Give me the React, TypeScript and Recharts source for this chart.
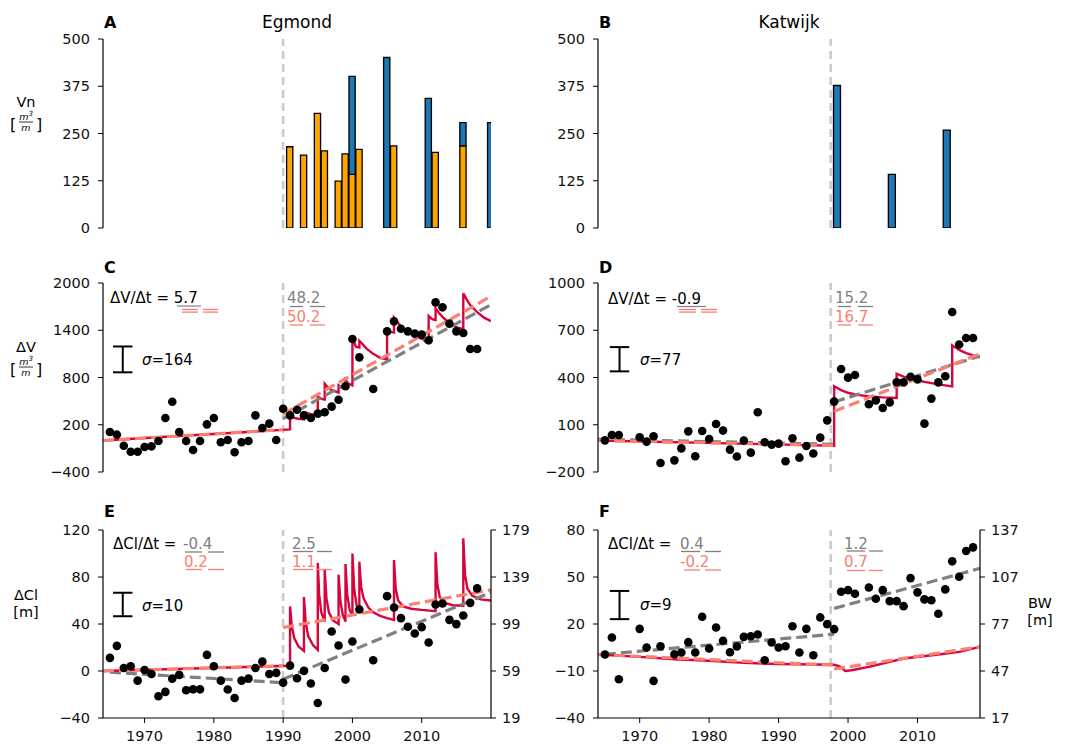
import React from 'react';
import { ComposedChart, XAxis, YAxis, Line, Scatter, Bar, ReferenceLine } from 'recharts';

const FONT = '"DejaVu Sans", Verdana, sans-serif';
const RED = '#d8053c';
const SALMON = '#fa8072';
const GREY = '#808080';
const VLINE = '#cbcbcb';
const ORANGE = '#ffa500';
const BLUE = '#1f77b4';

// ---------------- data ----------------
// Panel A / B : nourishment volumes
const egNourYears = [1991, 1993, 1995, 1996, 1998, 1999, 2000, 2001, 2005, 2006, 2011, 2012, 2016, 2020];
const egBeachVol = [215, 193, 303, 204, 124, 196, 142, 208, 0, 217, 0, 200, 217, 0];
const egShoreVol = [0, 0, 0, 0, 0, 0, 259, 0, 451, 0, 343, 0, 62, 279];
const kaNourYears = [1998.4, 2006.3, 2014.2];
const kaShoreVol = [377, 142, 259];

// observations
const egObsYears = [1965, 1966, 1967, 1968, 1969, 1970, 1971, 1972, 1973, 1974, 1975, 1976, 1977, 1978, 1979, 1980, 1981, 1982, 1983, 1984, 1985, 1986, 1987, 1988, 1989, 1990, 1991, 1992, 1993, 1994, 1995, 1996, 1997, 1998, 1999, 2000, 2001, 2003, 2005, 2006, 2007, 2008, 2009, 2010, 2011, 2012, 2013, 2014, 2015, 2016, 2017, 2018];
const egVol = [108, 74, -66, -142, -142, -83, -74, -6, 286, 493, 108, -6, -121, -6, 205, 286, -23, 6, -150, -23, -6, 319, 159, 214, 6, 404, 319, 391, 319, 286, 341, 358, 430, 518, 688, 1289, 1056, 654, 1386, 1513, 1420, 1386, 1357, 1344, 1272, 1754, 1691, 1484, 1386, 1365, 1162, 1162];
const egCl = [11.2, 21.4, 2.6, 4, -8.2, 0.9, -2.5, -21.5, -17.8, -6.5, -3.3, -16.4, -15.6, -15.6, 13.7, 4, -8.2, -15.8, -23, -8.2, -6.5, 2.6, 8, -2.5, -1.6, -9.9, 4.6, -6.2, 0.1, -10.7, -27.2, 2.6, 33.6, 21.7, -7.3, 25.1, 52.4, 9.2, 63.7, 54.1, 45, 37.6, 31.9, 37.3, 24.2, 56.6, 57.5, 43.5, 39.9, 47.2, 58, 70.3];

const kaObsYears = [1965, 1966, 1967, 1970, 1971, 1972, 1973, 1975, 1976, 1977, 1978, 1979, 1980, 1981, 1982, 1983, 1984, 1985, 1986, 1987, 1988, 1989, 1990, 1991, 1992, 1993, 1994, 1995, 1996, 1997, 1998, 1999, 2000, 2001, 2003, 2004, 2005, 2006, 2007, 2008, 2009, 2010, 2011, 2012, 2013, 2014, 2015, 2016, 2017, 2018];
const kaVol = [1, 35, 35, 20, -7, 27, -143, -126, -50, 58, -100, 60, 10, 105, 63, -58, -102, -1, -77, 179, -11, -26, -20, -132, 14, -109, -35, -83, 18, 128, 247, 454, 399, 416, 230, 255, 206, 242, 369, 369, 405, 388, 107, 266, 369, 408, 816, 609, 651, 651];
const kaCl = [0.5, 11.4, -15.3, 16.9, 5, -16.3, 5.8, 0.7, 1.8, 8.4, 1.8, 24.6, 4.4, 17.8, 9.3, 2, 5.6, 11.8, 12.2, 13.3, -3.1, 8.2, 5, 5.8, 18.6, 1.8, 16.9, 0.1, 24.2, 19.9, 16.7, 40.6, 41.6, 39.3, 43.3, 36.1, 41.6, 34.6, 34.6, 31.4, 49.3, 40.2, 35.7, 35.2, 26.5, 42.1, 60, 50.2, 66.6, 68.9];

// model (red) lines
const egVolModelX = [1964, 1991, 1991, 1992, 1993, 1993, 1994, 1995, 1995, 1995.5, 1996, 1996, 1996.5, 1997, 1998, 1998, 1998.5, 1999, 1999, 1999.5, 2000, 2000, 2000.5, 2001, 2001, 2001.5, 2002, 2003, 2004, 2005, 2005, 2005.5, 2006, 2006, 2006.5, 2007, 2008, 2009, 2010, 2011, 2011, 2011.5, 2012, 2012, 2012.5, 2013, 2014, 2015, 2016, 2016, 2016.5, 2017, 2018, 2019, 2020];
const egVolModelY = [0, 140, 300, 280, 268, 360, 335, 325, 560, 530, 520, 720, 670, 640, 610, 700, 670, 660, 770, 720, 700, 1310, 1190, 1180, 1265, 1220, 1170, 1100, 1050, 1030, 1410, 1380, 1370, 1560, 1500, 1450, 1380, 1330, 1290, 1263, 1580, 1540, 1530, 1680, 1620, 1570, 1490, 1440, 1413, 1870, 1790, 1720, 1630, 1560, 1515];
const kaVolModelX = [1964, 1998, 1998, 1999, 2000, 2001, 2003, 2005, 2007, 2007, 2008, 2009, 2011, 2013, 2015, 2015, 2016, 2017, 2018, 2019.5];
const kaVolModelY = [0, -33, 344, 320, 303, 292, 280, 274, 270, 424, 405, 392, 372, 356, 344, 604, 575, 555, 540, 522];
const egClModelX = [1964, 1991, 1991, 1991.25, 1991.6, 1992.2, 1993, 1993, 1993.25, 1993.6, 1994.3, 1995, 1995, 1995.2, 1995.5, 1996, 1996, 1996.25, 1996.6, 1997.2, 1998, 1998, 1998.25, 1998.6, 1999, 1999, 1999.25, 1999.6, 2000, 2000, 2000.25, 2000.6, 2001, 2001, 2001.25, 2001.6, 2002.3, 2003, 2004, 2005, 2006, 2006, 2006.25, 2006.6, 2007.3, 2008.5, 2010, 2012, 2012, 2012.25, 2012.6, 2013.3, 2014.5, 2016, 2016, 2016.25, 2016.6, 2017.3, 2018.5, 2020];
const egClModelY = [0, 4.5, 55, 38, 28, 21, 17, 63, 42, 30, 22, 18, 92, 65, 50, 42, 86, 62, 50, 43, 40, 82, 60, 48, 42, 91, 65, 52, 47, 100, 70, 56, 50, 93, 72, 62, 54, 50, 47, 45, 43.5, 94.5, 70, 60, 55, 53, 52, 51, 101, 74, 63, 58, 56, 55.5, 113, 82, 70, 64, 61, 60];
const kaClModelX = [1964, 1970, 1975, 1980, 1985, 1990, 1998, 1998.8, 1999.6, 2000.5, 2003, 2008, 2013, 2016, 2019];
const kaClModelY = [0.5, -1, -2.5, -3.5, -4.8, -5.5, -6, -7, -10, -9.5, -7.4, -2, 0.5, 2.2, 5.4];

// linear trends (grey = observations, salmon = model), pre / post first nourishment
const egVolSalmonPreX = [1964, 1990]; const egVolSalmonPreY = [0, 137];
const egVolSalmonPostX = [1990, 2020]; const egVolSalmonPostY = [336, 1831];
const egVolGreyPostX = [1990, 2020]; const egVolGreyPostY = [279, 1725];
const kaVolSalmonPreX = [1964, 1998]; const kaVolSalmonPreY = [0, -31];
const kaVolSalmonPostX = [1998, 2019]; const kaVolSalmonPostY = [185, 551];
const kaVolGreyPreX = [1964, 1998]; const kaVolGreyPreY = [8, -24];
const kaVolGreyPostX = [1998, 2019]; const kaVolGreyPostY = [245, 536];
const egClSalmonPreX = [1964, 1990]; const egClSalmonPreY = [0, 4.5];
const egClSalmonPostX = [1990, 2020]; const egClSalmonPostY = [37, 69];
const egClGreyPreX = [1965, 1990]; const egClGreyPreY = [-1, -10];
const egClGreyPostX = [1990, 2020]; const egClGreyPostY = [-7, 67];
const kaClSalmonPreX = [1964, 1998]; const kaClSalmonPreY = [0.5, -6.3];
const kaClSalmonPostX = [1998, 2019]; const kaClSalmonPostY = [-8.7, 5.5];
const kaClGreyPreX = [1965, 1998]; const kaClGreyPreY = [0.7, 13.5];
const kaClGreyPostX = [1998, 2019]; const kaClGreyPostY = [30, 55.5];

// sigma bars (centre value, sigma)
const egVolSigma = [1030, 164];
const kaVolSigma = [516, 77];
const egClSigma = [56.6, 10];
const kaClSigma = [32.1, 9];

// axes
const leftXDomain: [number, number] = [1964, 2020];
const rightXDomain: [number, number] = [1964, 2019];
const yearTicks = [1970, 1980, 1990, 2000, 2010];
const vnTicks = [0, 125, 250, 375, 500];
const egVolTicks = [-400, 200, 800, 1400, 2000];
const kaVolTicks = [-200, 100, 400, 700, 1000];
const egClTicks = [-40, 0, 40, 80, 120];
const egBwTicks = [19, 59, 99, 139, 179];
const kaClTicks = [-40, -10, 20, 50, 80];
const kaBwTicks = [17, 47, 77, 107, 137];
const egFirst = 1990;
const kaFirst = 1997.5;

// ---------------- helpers ----------------
const zip = (xs: number[], ys: number[]) => xs.map((x, i) => ({ x, y: ys[i] }));
const egBars = egNourYears.map((x, i) => ({ x, o: egBeachVol[i], b: egShoreVol[i] }));
const kaBars = kaNourYears.map((x, i) => ({ x, b: kaShoreVol[i] }));
const fmt = (v: number) => String(v).replace('-', '\u2212');
const tickStyle = { fontSize: 14.5, fill: '#111', fontFamily: FONT };

const Dot = (p: any) => <circle cx={p.cx} cy={p.cy} r={4.3} fill="#000" />;

type PanelProps = {
  x0: number; y0: number; w: number; h: number;
  xDomain: [number, number]; yDomain: [number, number]; yTicks: number[];
  rDomain?: [number, number]; rTicks?: number[]; showX?: boolean; data?: any[];
  children?: React.ReactNode;
};

function Panel({ x0, y0, w, h, xDomain, yDomain, yTicks, rDomain, rTicks, showX, data, children }: PanelProps) {
  const YW = 60;
  const RW = rTicks ? 45 : 0;
  const XH = showX ? 30 : 0;
  const M = 14;
  const axisLine = { stroke: '#000', strokeWidth: 1.2 };
  return (
    <div style={{ position: 'absolute', left: x0 - YW, top: y0 - M }}>
      <ComposedChart width={YW + w + RW + M} height={M + h + XH + M} data={data}
        margin={{ top: M, right: M, bottom: M, left: 0 }}>
        <XAxis dataKey="x" type="number" domain={xDomain} allowDataOverflow ticks={showX ? yearTicks : []}
          height={XH} tick={showX ? tickStyle : false} tickLine={showX ? { stroke: '#000' } : false}
          tickSize={5} tickMargin={8} axisLine={axisLine} interval={0} />
        <XAxis xAxisId="top" orientation="top" type="number" domain={xDomain} allowDataOverflow
          height={0} tick={false} tickLine={false} axisLine={axisLine} />
        <YAxis type="number" domain={yDomain} ticks={yTicks} allowDataOverflow width={YW}
          tick={tickStyle} tickLine={{ stroke: '#000' }} tickSize={5} tickMargin={8}
          axisLine={axisLine} interval={0} tickFormatter={fmt} />
        <YAxis yAxisId="right" orientation="right" type="number" domain={rDomain ?? yDomain}
          ticks={rTicks ?? []} allowDataOverflow width={RW} interval={0}
          tick={rTicks ? tickStyle : false} tickLine={rTicks ? { stroke: '#000' } : false}
          tickSize={5} tickMargin={6} axisLine={axisLine} />
        {children}
      </ComposedChart>
    </div>
  );
}

const sigmaBar = (xc: number, s: number[], cap: number) => [
  <ReferenceLine key="sv" segment={[{ x: xc, y: s[0] - s[1] }, { x: xc, y: s[0] + s[1] }]} stroke="#000" strokeWidth={2} ifOverflow="visible" />,
  <ReferenceLine key="st" segment={[{ x: xc - cap, y: s[0] + s[1] }, { x: xc + cap, y: s[0] + s[1] }]} stroke="#000" strokeWidth={2} ifOverflow="visible" />,
  <ReferenceLine key="sb" segment={[{ x: xc - cap, y: s[0] - s[1] }, { x: xc + cap, y: s[0] - s[1] }]} stroke="#000" strokeWidth={2} ifOverflow="visible" />,
];

const modelLine = (key: string, d: { x: number; y: number }[]) => (
  <Line key={key} data={d} dataKey="y" type="linear" stroke={RED} strokeWidth={2.4} dot={false} isAnimationActive={false} />
);
const trendLine = (key: string, d: { x: number; y: number }[], color: string) => (
  <Line key={key} data={d} dataKey="y" type="linear" stroke={color} strokeWidth={3.2} strokeDasharray="11 5" dot={false} isAnimationActive={false} />
);
const obs = (d: { x: number; y: number }[]) => (
  <Scatter data={d} dataKey="y" shape={Dot} isAnimationActive={false} />
);
const vline = (x: number) => (
  <ReferenceLine x={x} stroke={VLINE} strokeWidth={2.5} strokeDasharray="8 5" />
);

// ---------------- overlay texts ----------------
const T = (p: any) => <text fontFamily={FONT} fontSize={15} fill="#000" {...p} />;
const dashU = (x1: number, x2: number, x3: number, x4: number, y: number, c: string, k: string) => (
  <g key={k}>
    <line x1={x1} x2={x2} y1={y} y2={y} stroke={c} strokeWidth={1.3} />
    <line x1={x3} x2={x4} y1={y} y2={y} stroke={c} strokeWidth={1.3} />
  </g>
);
const dbl = (x1: number, x2: number, x3: number, x4: number, y: number, k: string) => (
  <g key={k}>
    {dashU(x1, x2, x3, x4, y, SALMON, k + 'a')}
    {dashU(x1, x2, x3, x4, y + 2.6, SALMON, k + 'b')}
  </g>
);
const frac = (cx: number, by: number) => (
  <g>
    <text x={cx - 13} y={by + 9} fontFamily={FONT} fontSize={16} textAnchor="middle">[</text>
    <text x={cx} y={by - 1.5} fontFamily={FONT} fontSize={9.5} fontStyle="italic" textAnchor="middle">m<tspan fontSize={7} dy={-4}>3</tspan></text>
    <line x1={cx - 7} x2={cx + 7} y1={by + 1} y2={by + 1} stroke="#000" strokeWidth={0.8} />
    <text x={cx} y={by + 9.5} fontFamily={FONT} fontSize={9.5} fontStyle="italic" textAnchor="middle">m</text>
    <text x={cx + 13} y={by + 9} fontFamily={FONT} fontSize={16} textAnchor="middle">]</text>
  </g>
);

function Overlay() {
  return (
    <svg width={1069} height={746} style={{ position: 'absolute', left: 0, top: 0, pointerEvents: 'none' }}>
      {/* panel letters and titles */}
      <T x={104} y={28} fontWeight="bold" fontSize={16}>A</T>
      <T x={297} y={28} fontSize={17} textAnchor="middle">Egmond</T>
      <T x={599} y={28} fontWeight="bold" fontSize={16}>B</T>
      <T x={789} y={28} fontSize={17} textAnchor="middle">Katwijk</T>
      <T x={104} y={273} fontWeight="bold" fontSize={16}>C</T>
      <T x={599} y={273} fontWeight="bold" fontSize={16}>D</T>
      <T x={104} y={517} fontWeight="bold" fontSize={16}>E</T>
      <T x={599} y={517} fontWeight="bold" fontSize={16}>F</T>

      {/* axis labels */}
      <T x={26} y={107} fontSize={14.5} textAnchor="middle">Vn</T>
      {frac(26, 121)}
      <T x={26} y={352} fontSize={14.5} textAnchor="middle">ΔV</T>
      {frac(26, 366)}
      <T x={26} y={600} fontSize={14.5} textAnchor="middle">ΔCl</T>
      <T x={26} y={617} fontSize={14.5} textAnchor="middle">[m]</T>
      <T x={1040} y={608} fontSize={14.5} textAnchor="middle">BW</T>
      <T x={1040} y={625} fontSize={14.5} textAnchor="middle">[m]</T>

      {/* C */}
      <T x={110} y={303}>ΔV/Δt = 5.7</T>
      <line x1={177} x2={201} y1={306} y2={306} stroke={GREY} strokeWidth={1.2} />
      {dbl(182, 198, 203, 218, 309.5, 'c1')}
      <T x={287} y={303} fill={GREY}>48.2</T>
      {dashU(290, 303, 310, 325, 306.5, GREY, 'c2')}
      <T x={287} y={321.5} fill={SALMON}>50.2</T>
      {dashU(290, 303, 310, 325, 325, SALMON, 'c3')}
      <T x={142} y={365}><tspan fontStyle="italic">σ</tspan>=164</T>

      {/* D */}
      <T x={608} y={304}>ΔV/Δt = -0.9</T>
      <line x1={677} x2={706} y1={306.5} y2={306.5} stroke={GREY} strokeWidth={1.2} />
      {dbl(679, 696, 701, 717, 309.5, 'd1')}
      <T x={835} y={303} fill={GREY}>15.2</T>
      {dashU(838, 851, 858, 873, 306.5, GREY, 'd2')}
      <T x={835} y={321.5} fill={SALMON}>16.7</T>
      {dashU(838, 851, 858, 873, 325, SALMON, 'd3')}
      <T x={640} y={365}><tspan fontStyle="italic">σ</tspan>=77</T>

      {/* E */}
      <T x={113} y={549}>ΔCl/Δt =</T>
      <T x={183} y={549} fill={GREY}>-0.4</T>
      {dashU(185, 202, 208, 224, 552, GREY, 'e1')}
      <T x={184} y={566.7} fill={SALMON}>0.2</T>
      {dashU(186, 202, 208, 224, 569.5, SALMON, 'e2')}
      <T x={292} y={548.5} fill={GREY}>2.5</T>
      {dashU(293, 313, 317, 332, 551.5, GREY, 'e3')}
      <T x={292} y={566.7} fill={SALMON}>1.1</T>
      {dashU(293, 313, 317, 332, 569.5, SALMON, 'e4')}
      <T x={142} y={610.5}><tspan fontStyle="italic">σ</tspan>=10</T>

      {/* F */}
      <T x={608} y={548.5}>ΔCl/Δt =</T>
      <T x={680} y={548.5} fill={GREY}>0.4</T>
      {dashU(681, 700, 705, 721, 551.5, GREY, 'f1')}
      <T x={680} y={566.7} fill={SALMON}>-0.2</T>
      {dashU(684, 700, 705, 721, 570, SALMON, 'f2')}
      <T x={844} y={548.5} fill={GREY}>1.2</T>
      {dashU(847, 865, 869, 883, 551, GREY, 'f3')}
      <T x={844} y={566.7} fill={SALMON}>0.7</T>
      {dashU(847, 865, 869, 883, 570.5, SALMON, 'f4')}
      <T x={640} y={610}><tspan fontStyle="italic">σ</tspan>=9</T>
    </svg>
  );
}

export default function App() {
  return (
    <div style={{ position: 'absolute', left: 0, top: 0, width: 1069, height: 746, background: '#fff', fontFamily: FONT }}>
      {/* A */}
      <Panel x0={103} y0={39} w={388} h={189} xDomain={leftXDomain} yDomain={[0, 500]} yTicks={vnTicks} data={egBars}>
        {vline(egFirst)}
        <Bar dataKey="o" stackId="s" fill={ORANGE} stroke="#000" strokeWidth={1.3} barSize={7} isAnimationActive={false} />
        <Bar dataKey="b" stackId="s" fill={BLUE} stroke="#000" strokeWidth={1.3} barSize={7} isAnimationActive={false} />
      </Panel>
      {/* B */}
      <Panel x0={598} y0={39} w={382} h={189} xDomain={rightXDomain} yDomain={[0, 500]} yTicks={vnTicks} data={kaBars}>
        {vline(kaFirst)}
        <Bar dataKey="b" fill={BLUE} stroke="#000" strokeWidth={1.3} barSize={7} isAnimationActive={false} />
      </Panel>
      {/* C */}
      <Panel x0={103} y0={283} w={388} h={189} xDomain={leftXDomain} yDomain={[-400, 2000]} yTicks={egVolTicks}>
        {vline(egFirst)}
        {modelLine('m', zip(egVolModelX, egVolModelY))}
        {trendLine('s1', zip(egVolSalmonPreX, egVolSalmonPreY), SALMON)}
        {trendLine('g2', zip(egVolGreyPostX, egVolGreyPostY), GREY)}
        {trendLine('s2', zip(egVolSalmonPostX, egVolSalmonPostY), SALMON)}
        {obs(zip(egObsYears, egVol))}
        {sigmaBar(1966.85, egVolSigma, 1.4)}
      </Panel>
      {/* D */}
      <Panel x0={598} y0={283} w={382} h={189} xDomain={rightXDomain} yDomain={[-200, 1000]} yTicks={kaVolTicks}>
        {vline(kaFirst)}
        {trendLine('g1', zip(kaVolGreyPreX, kaVolGreyPreY), GREY)}
        {modelLine('m', zip(kaVolModelX, kaVolModelY))}
        {trendLine('s1', zip(kaVolSalmonPreX, kaVolSalmonPreY), SALMON)}
        {trendLine('g2', zip(kaVolGreyPostX, kaVolGreyPostY), GREY)}
        {trendLine('s2', zip(kaVolSalmonPostX, kaVolSalmonPostY), SALMON)}
        {obs(zip(kaObsYears, kaVol))}
        {sigmaBar(1967.1, kaVolSigma, 1.4)}
      </Panel>
      {/* E */}
      <Panel x0={103} y0={530} w={388} h={188} xDomain={leftXDomain} yDomain={[-40, 120]} yTicks={egClTicks}
        rDomain={[19, 179]} rTicks={egBwTicks} showX>
        {vline(egFirst)}
        {trendLine('g1', zip(egClGreyPreX, egClGreyPreY), GREY)}
        {modelLine('m', zip(egClModelX, egClModelY))}
        {trendLine('s1', zip(egClSalmonPreX, egClSalmonPreY), SALMON)}
        {trendLine('g2', zip(egClGreyPostX, egClGreyPostY), GREY)}
        {trendLine('s2', zip(egClSalmonPostX, egClSalmonPostY), SALMON)}
        {obs(zip(egObsYears, egCl))}
        {sigmaBar(1966.85, egClSigma, 1.4)}
      </Panel>
      {/* F */}
      <Panel x0={598} y0={530} w={382} h={188} xDomain={rightXDomain} yDomain={[-40, 80]} yTicks={kaClTicks}
        rDomain={[17, 137]} rTicks={kaBwTicks} showX>
        {vline(kaFirst)}
        {trendLine('g1', zip(kaClGreyPreX, kaClGreyPreY), GREY)}
        {modelLine('m', zip(kaClModelX, kaClModelY))}
        {trendLine('s1', zip(kaClSalmonPreX, kaClSalmonPreY), SALMON)}
        {trendLine('g2', zip(kaClGreyPostX, kaClGreyPostY), GREY)}
        {trendLine('s2', zip(kaClSalmonPostX, kaClSalmonPostY), SALMON)}
        {obs(zip(kaObsYears, kaCl))}
        {sigmaBar(1967.1, kaClSigma, 1.4)}
      </Panel>
      <Overlay />
    </div>
  );
}
